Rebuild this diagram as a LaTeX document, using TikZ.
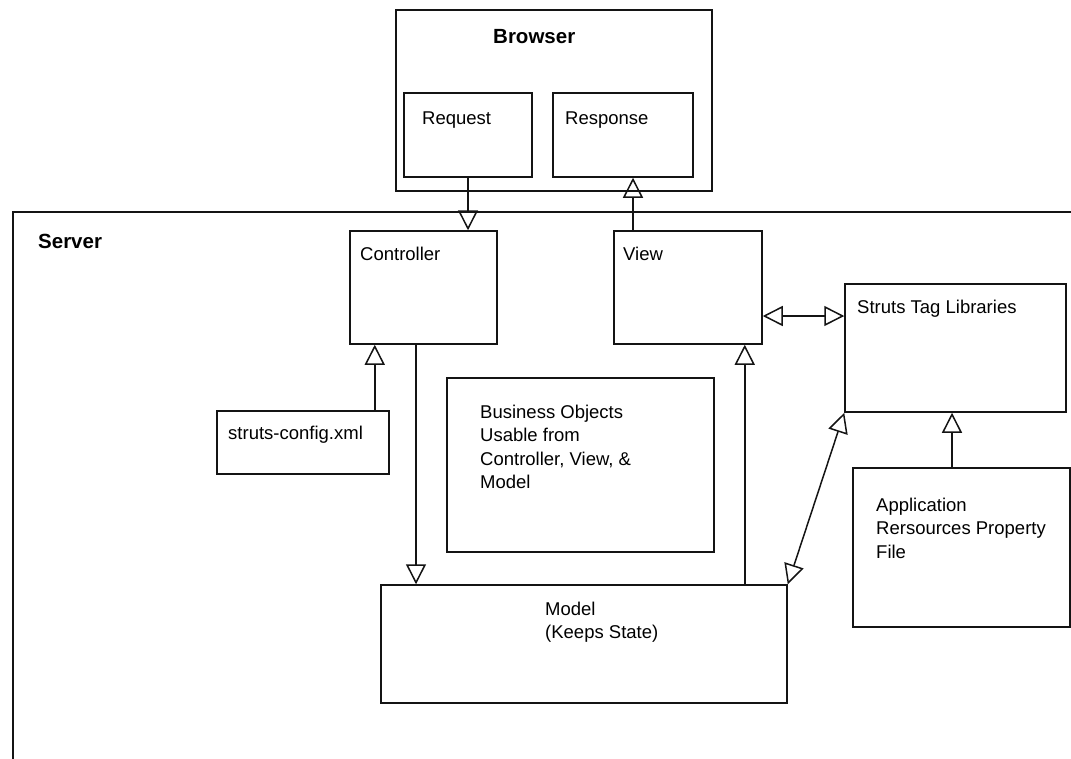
\documentclass[tikz,border=0pt]{standalone}
\usepackage{xcolor}
\usepackage{fontspec}
\setmainfont{Liberation Sans}
\usepackage{tikz}
\usetikzlibrary{arrows.meta}
\definecolor{umlLine}{RGB}{20, 20, 20}
\newcommand{\labelsize}{\fontsize{18.5}{23.5}\selectfont}
\newcommand{\titlesize}{\fontsize{20.5}{24}\selectfont\bfseries}

\begin{document}
\begin{tikzpicture}[x=1pt, y=-1pt,
  umlBox/.style={draw=umlLine, line width=1.5pt, rectangle, inner sep=0pt},
  umlText/.style={anchor=base west, inner sep=0pt, font=\labelsize},
  umlNote/.style={anchor=north west, inner sep=0pt, align=left, font=\labelsize},
  umlTitle/.style={anchor=base west, inner sep=0pt, font=\titlesize},
  umlArrow/.style={draw=umlLine, line width=1.5pt, -{Triangle[open, length=20pt, width=20pt]}},
  umlArrowBoth/.style={draw=umlLine, line width=1.5pt, {Triangle[open, length=20pt, width=20pt]}-{Triangle[open, length=20pt, width=20pt]}}]
\clip (0,0) rectangle (1071,758);
\fill[white] (0,0) rectangle (1071,758);

% Browser
\node[umlBox, minimum width=316pt, minimum height=181pt] (browser) at (554,100.5) {};
\node[umlTitle] (browserText) at (493,43) {Browser};
\node[umlBox, minimum width=128pt, minimum height=84pt] (request) at (468,135) {};
\node[umlText] (requestText) at (422,124) {Request};
\node[umlBox, minimum width=140pt, minimum height=84pt] (response) at (623,135) {};
\node[umlText] (responseText) at (565,124) {Response};

% Server
\node[umlBox, minimum width=1077pt, minimum height=568pt] (server) at (551.5,496) {};
\node[umlTitle] (serverText) at (38,248) {Server};

\node[umlBox, minimum width=147pt, minimum height=113pt] (controller) at (423.5,287.5) {};
\node[umlText] (controllerText) at (360,260) {Controller};
\node[umlBox, minimum width=148pt, minimum height=113pt] (view) at (688,287.5) {};
\node[umlText] (viewText) at (623,260) {View};
\node[umlBox, minimum width=221pt, minimum height=128pt] (struts) at (955.5,348) {};
\node[umlText] (strutsText) at (857,313) {Struts Tag Libraries};
\node[umlBox, minimum width=172pt, minimum height=63pt] (config) at (303,442.5) {};
\node[umlText] (configText) at (228,439) {struts-config.xml};
\node[umlBox, minimum width=267pt, minimum height=174pt] (business) at (580.5,465) {};
\node[umlNote] (businessText) at (480,404.5) {Business Objects\\Usable from\\Controller, View, \&\\Model};
\node[umlBox, minimum width=406pt, minimum height=118pt] (model) at (584,644) {};
\node[umlNote] (modelText) at (545,601.5) {Model\\(Keeps State)};
\node[umlBox, minimum width=217pt, minimum height=159pt] (appres) at (961.5,547.5) {};
\node[umlNote] (appresText) at (876,497.5) {Application\\Rersources Property\\File};

% Connectors
\coordinate (viewTop) at ([xshift=-55pt]view.north);
\coordinate (configTop) at ([xshift=-15pt]config.north east);
\coordinate (controllerBottom) at ([xshift=-7.5pt]controller.south);
\coordinate (modelTop) at ([xshift=-43pt]model.north east);
\coordinate (viewRight) at ([yshift=-28.5pt]view.east);
\coordinate (appresTop) at ([xshift=-9.5pt]appres.north);

\draw[umlArrow] (request.south) -- (request.south |- controller.north);
\draw[umlArrow] (viewTop) -- (viewTop |- response.south);
\draw[umlArrow] (configTop) -- (configTop |- controller.south);
\draw[umlArrow] (controllerBottom) -- (controllerBottom |- model.north);
\draw[umlArrow] (modelTop) -- (modelTop |- view.south);
\draw[umlArrowBoth] (viewRight) -- (viewRight -| struts.west);
\draw[umlArrow] (appresTop) -- (appresTop |- struts.south);
\draw[umlArrowBoth] (model.north east) -- (struts.south west);
\end{tikzpicture}
\end{document}
